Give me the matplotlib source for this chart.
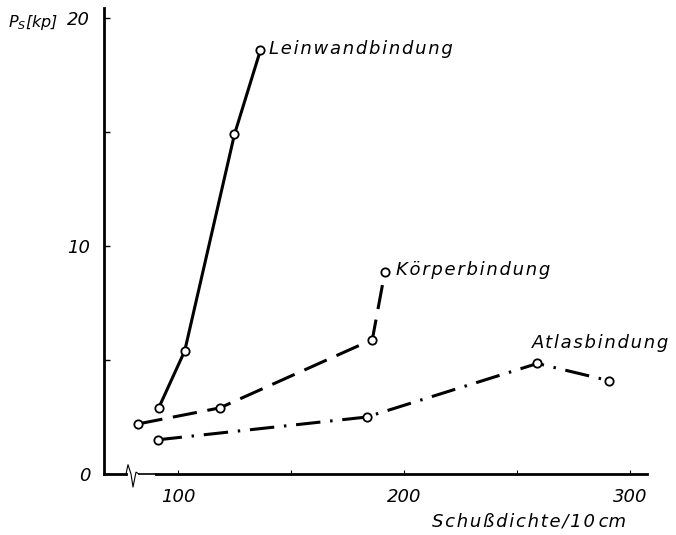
import matplotlib.pyplot as plt
from matplotlib.lines import Line2D

# Schußdichte (Fäden/10 cm) und Schiebewiderstand P_S (kp)
lein_x = [91.5, 103, 125, 136.5]
lein_y = [2.9, 5.4, 14.9, 18.6]
koerper_x = [82.5, 118.5, 186, 191.5]
koerper_y = [2.2, 2.9, 5.9, 8.85]
atlas_x = [91, 183.5, 259, 290.5]
atlas_y = [1.5, 2.5, 4.85, 4.1]

plt.rcParams['font.family'] = 'DejaVu Sans'
plt.rcParams['mathtext.fontset'] = 'dejavusans'


def spaced(s):
    # gesperrte Schrift wie in der Normschrift
    return '\u200a'.join(s)


W, H = 676, 535
fig = plt.figure(figsize=(W / 100, H / 100), dpi=100)
x0, y0, x1, y1 = 104, 474, 647, 8
ax = fig.add_axes([x0 / W, 1 - y0 / H, (x1 - x0) / W, (y0 - y1) / H])
ax.set_xlim(67.3, 307.5)
ax.set_ylim(0, 20.45)

for s in ['top', 'right', 'bottom']:
    ax.spines[s].set_visible(False)
ax.spines['left'].set_linewidth(2.0)

# x-Achse mit Bruchzeichen
tr = ax.transAxes
fx = lambda px: (px - x0) / (x1 - x0)
ax.add_line(Line2D([0, fx(126)], [0, 0], transform=tr, color='black', lw=2.0, clip_on=False))
ax.add_line(Line2D([fx(126), fx(128), fx(131), fx(133), fx(136), fx(139)],
                   [0, 0.02, 0.0, -0.028, 0.004, 0], transform=tr,
                   color='black', lw=0.8, clip_on=False))
ax.add_line(Line2D([fx(139), fx(156)], [0, 0], transform=tr, color='black', lw=1.2, clip_on=False))
ax.add_line(Line2D([fx(156), 1], [0, 0], transform=tr, color='black', lw=2.0, clip_on=False))

tick_font = dict(fontsize=13, style='italic')
ax.set_yticks([0, 5, 10, 15, 20])
ax.set_yticklabels(['0', '', '10', '', '20'], **tick_font)
ax.set_xticks([100, 150, 200, 250, 300])
ax.set_xticklabels(['100', '', '200', '', '300'], **tick_font)
ax.tick_params(axis='y', direction='in', length=4, width=1, pad=10)
ax.tick_params(axis='x', direction='in', length=3, width=0.8, pad=10)

mk = dict(marker='o', markersize=6, markerfacecolor='white',
          markeredgecolor='black', markeredgewidth=1.3, color='black', lw=2.2)
ax.plot(lein_x, lein_y, linestyle='-', clip_on=False, **mk)
ax.plot(koerper_x, koerper_y, linestyle=(0, (8, 3.5)), clip_on=False, **mk)
ax.plot(atlas_x, atlas_y, linestyle=(0, (8, 3.2, 0.8, 3.2)), clip_on=False, **mk)

lab = dict(fontsize=13, style='italic', va='center')
ax.text(140.5, 18.65, spaced('Leinwandbindung'), ha='left', **lab)
ax.text(196.5, 8.95, spaced('Körperbindung'), ha='left', **lab)
ax.text(317.5, 5.75, spaced('Atlasbindung'), ha='right', **lab)

fig.text(8 / W, 1 - 22 / H, r'$P_S$[kp]', fontsize=11.5, style='italic',
         va='center', ha='left')
fig.text(626 / W, 1 - 521 / H, spaced('Schußdichte/10') + '\u2009cm',
         fontsize=13, style='italic', va='center', ha='right')

fig.savefig('out.png', dpi=100)
